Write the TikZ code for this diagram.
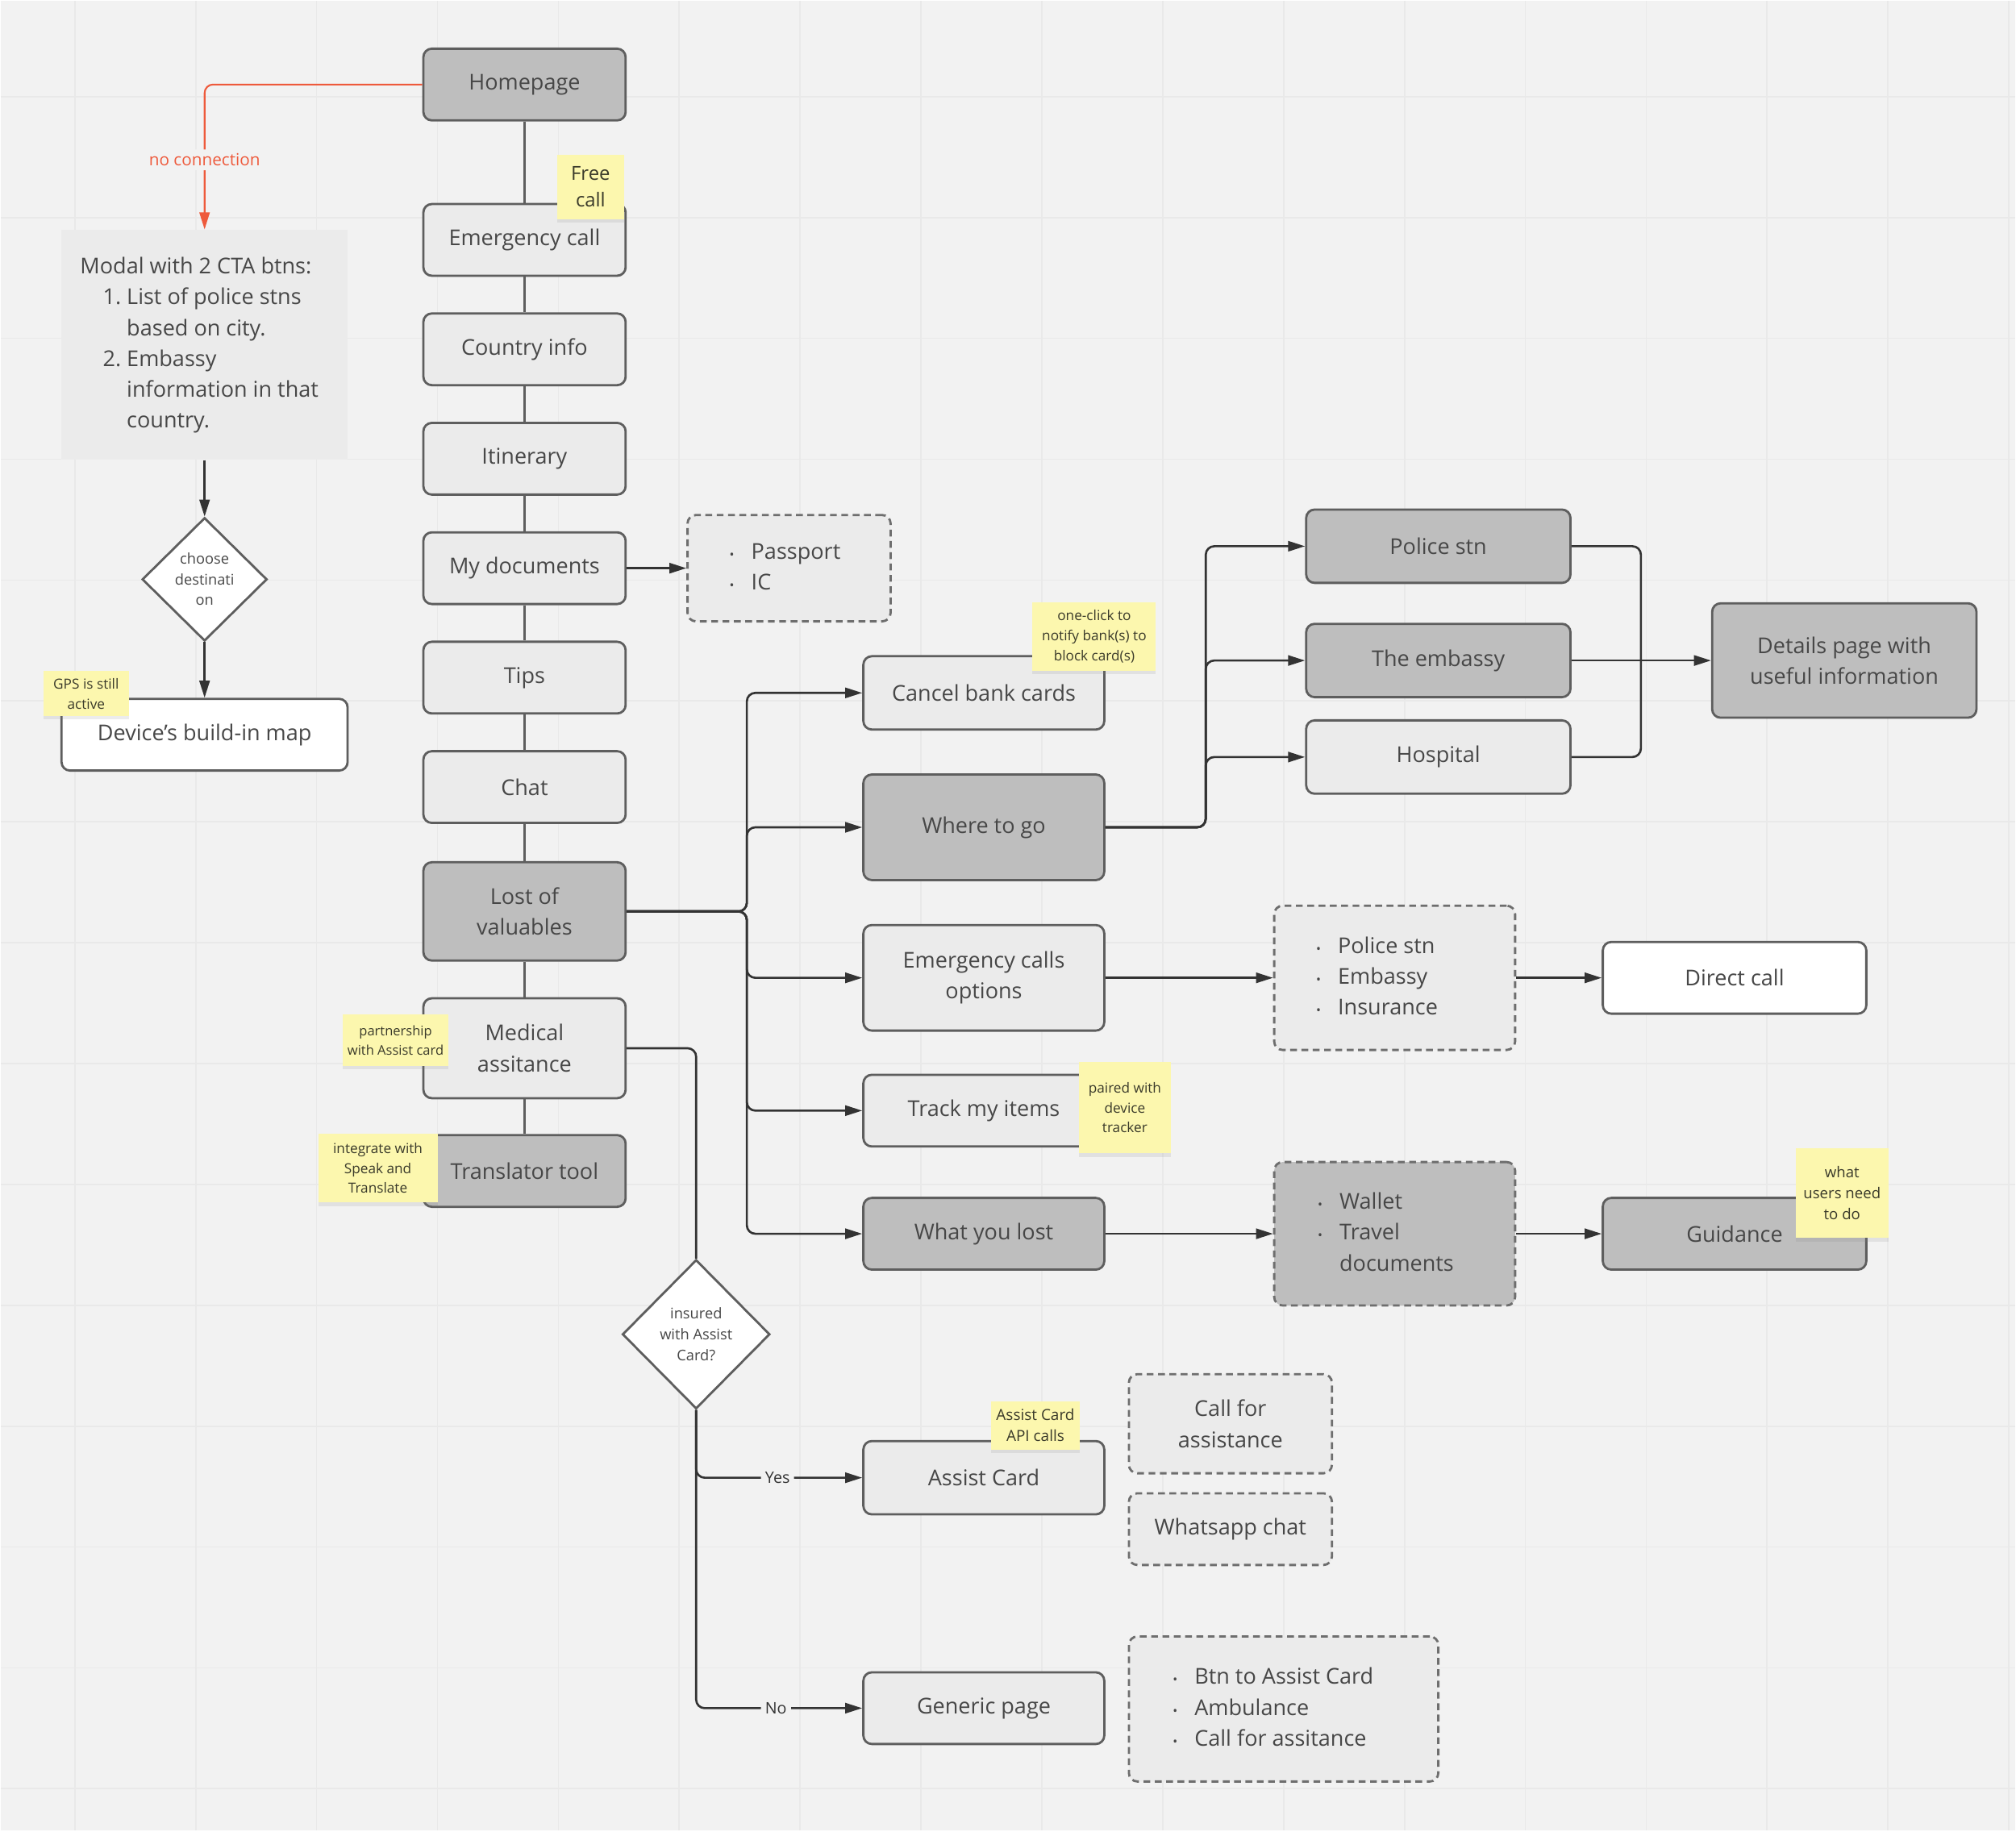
\documentclass[tikz,border=0pt]{standalone}
\usepackage{fontspec}
\setmainfont{Open Sans}
\usepackage{tikz}
\usetikzlibrary{shapes.geometric, arrows.meta, positioning, shadows}

\definecolor{canvas}{HTML}{F2F2F2}
\definecolor{gridgrey}{HTML}{E9E9E9}
\definecolor{fillDark}{HTML}{BEBEBE}
\definecolor{fillLight}{HTML}{EBEBEB}
\definecolor{edgegrey}{HTML}{5E5E5E}
\definecolor{dashgrey}{HTML}{6E6E6E}
\definecolor{textgrey}{HTML}{474747}
\definecolor{linegrey}{HTML}{333333}
\definecolor{sticky}{HTML}{FCF7AE}
\definecolor{notetext}{HTML}{3A3A2A}
\definecolor{nolink}{HTML}{EE5A3C}

\newcommand{\boxfont}{\fontsize{7.7}{10.9}\selectfont}
\newcommand{\notefont}{\fontsize{4.9}{7}\selectfont}
\newcommand{\bul}{{\fontsize{4.5}{4.5}\selectfont\textbullet}}

\begin{document}
\begin{tikzpicture}[
        node distance=0.44cm and 0.5cm,
        box/.style={draw=edgegrey, line width=0.8pt, rounded corners=3pt, minimum height=0.89cm, minimum width=2.51cm, font=\boxfont, text=textgrey, align=center, inner sep=2pt},
        greybox/.style={box, fill=fillDark},
        lightbox/.style={box, fill=fillLight},
        whitebox/.style={box, fill=white},
        listbox/.style={draw=dashgrey, dash pattern=on 2.4pt off 1.6pt},
        note/.style={fill=sticky, text=notetext, font=\notefont, align=center, inner sep=1pt, drop shadow={shadow xshift=0pt, shadow yshift=-1.2pt, opacity=0.15}},
        decision/.style={draw=edgegrey, line width=0.8pt, diamond, fill=white, text=textgrey, font=\fontsize{5.2}{7.3}\selectfont, align=center, inner sep=0pt},
        link/.style={draw=linegrey, line width=0.75pt, rounded corners=3pt},
        tag/.style={fill=canvas, font=\fontsize{5.6}{7}\selectfont, text=linegrey, inner sep=1.5pt},
        >={Triangle[length=6pt, width=3.6pt]}
    ]
        \fill[canvas] (0,0) rectangle (25,-22.71);
        \foreach \x in {0.92,2.42,...,24.93} \draw[gridgrey, line width=0.5pt] (\x,0) -- (\x,-22.71);
        \foreach \y in {1.19,2.69,...,22.2} \draw[gridgrey, line width=0.5pt] (0,-\y) -- (25,-\y);
        \useasboundingbox (0,0) rectangle (25,-22.71);

        \node[greybox] (home) at (6.50,-1.04) {Homepage};
        \node[lightbox, below=1.01cm of home] (emcall) {Emergency call};
        \node[lightbox, below=of emcall] (country) {Country info};
        \node[lightbox, below=of country] (itinerary) {Itinerary};
        \node[lightbox, below=of itinerary] (mydocs) {My documents};
        \node[lightbox, below=of mydocs] (tips) {Tips};
        \node[lightbox, below=of tips] (chat) {Chat};
        \node[greybox, below=0.46cm of chat, minimum height=1.22cm] (lost) {Lost of\\valuables};
        \node[lightbox, below=of lost, minimum height=1.24cm] (medical) {Medical\\assitance};
        \node[greybox, below=0.43cm of medical] (translator) {Translator tool};

        \node[fill=fillLight, minimum width=3.55cm, minimum height=2.85cm, font=\boxfont, text=textgrey] (modal) at (2.53,-4.27) {%
            \begin{tabular}{@{}r@{\hspace{2pt}}l@{}}
                \multicolumn{2}{@{}l@{}}{Modal with 2 CTA btns:}\\
                \hspace*{8pt}1. & List of police stns\\
                & based on city.\\
                2. & Embassy\\
                & information in that\\
                & country.
            \end{tabular}\hspace{0.13cm}\mbox{}};
        \node[decision, minimum width=1.55cm, minimum height=1.53cm, below=0.70cm of modal] (choose) {choose\\destinati\\on};
        \node[whitebox, minimum width=3.55cm, below=0.69cm of choose] (map) {Device's build-in map};

        \node[lightbox, listbox, minimum width=2.52cm, minimum height=1.32cm, right=0.74cm of mydocs] (docs) {%
            \begin{tabular}{@{}c@{\hspace{6pt}}l@{}}\bul & Passport\\ \bul & IC\end{tabular}\hspace{0.1cm}};

        \node[lightbox, minimum width=2.99cm, minimum height=0.91cm] (cancel) at (12.20,-8.59) {Cancel bank cards};
        \node[greybox, minimum width=2.99cm, minimum height=1.31cm, below=0.53cm of cancel] (where) {Where to go};
        \node[lightbox, minimum width=2.99cm, minimum height=1.31cm, below=0.53cm of where] (emopts) {Emergency calls\\options};
        \node[lightbox, minimum width=2.99cm, below=0.52cm of emopts] (track) {Track my items};
        \node[greybox, minimum width=2.99cm, below=0.61cm of track] (whatlost) {What you lost};

        \node[greybox, minimum width=3.28cm, minimum height=0.91cm] (police) at (17.84,-6.77) {Police stn};
        \node[greybox, minimum width=3.28cm, minimum height=0.91cm, below=0.48cm of police] (embassy) {The embassy};
        \node[lightbox, minimum width=3.28cm, minimum height=0.91cm, below=0.26cm of embassy] (hospital) {Hospital};
        \node[greybox, minimum width=3.28cm, minimum height=1.42cm, right=1.73cm of embassy] (details) {Details page with\\useful information};

        \node[lightbox, listbox, minimum width=2.99cm, minimum height=1.79cm, right=2.08cm of emopts] (emlist) {%
            \begin{tabular}{@{}c@{\hspace{6pt}}l@{}}\bul & Police stn\\ \bul & Embassy\\ \bul & Insurance\end{tabular}\hspace{0.44cm}};
        \node[whitebox, minimum width=3.27cm, right=1.06cm of emlist] (direct) {Direct call};
        \node[greybox, listbox, minimum width=2.99cm, minimum height=1.78cm, right=2.08cm of whatlost] (wallet) {%
            \begin{tabular}{@{}c@{\hspace{6pt}}l@{}}\bul & Wallet\\ \bul & Travel\\ & documents\end{tabular}\hspace{0.22cm}};
        \node[greybox, minimum width=3.27cm, right=1.06cm of wallet] (guidance) {Guidance};

        \node[decision, minimum width=1.83cm, minimum height=1.85cm] (ins) at (8.63,-16.55) {insured\\with Assist\\Card?};
        \node[lightbox, minimum width=2.99cm, minimum height=0.91cm] (assist) at (12.20,-18.33) {Assist Card};
        \node[lightbox, minimum width=2.99cm] (generic) at (12.20,-21.19) {Generic page};
        \node[lightbox, listbox, minimum width=2.52cm, minimum height=1.23cm] (callfor) at (15.26,-17.66) {Call for\\assistance};
        \node[lightbox, listbox, minimum width=2.52cm, below=0.22cm of callfor] (whatsapp) {Whatsapp chat};
        \node[lightbox, listbox, minimum width=3.84cm, minimum height=1.80cm] (btnlist) at (15.92,-21.20) {%
            \begin{tabular}{@{}c@{\hspace{6pt}}l@{}}\bul & Btn to Assist Card\\ \bul & Ambulance\\ \bul & Call for assitance\end{tabular}\hspace{0.26cm}};

        \foreach \a/\b in {home/emcall, emcall/country, country/itinerary, itinerary/mydocs, mydocs/tips, tips/chat, chat/lost, lost/medical, medical/translator}
            \draw[link, draw=edgegrey] (\a) -- (\b);

        \draw[link, draw=nolink, line width=0.6pt, ->] (home.west) -| node[pos=0.76, fill=canvas, text=nolink, font=\fontsize{5.9}{7}\selectfont, inner sep=1.5pt] {no connection} (modal.north);
        \draw[link, ->] (modal.south) -- (choose.north);
        \draw[link, ->] (choose.south) -- (map.north);
        \draw[link, ->] (mydocs.east) -- (docs.west);

        \path (lost.east) ++(1.49,0) coordinate (busA);
        \foreach \t in {cancel, where, emopts, track, whatlost}
            \draw[link, ->] (lost.east) -- (busA) |- (\t.west);

        \path (where.east) ++(1.245,0) coordinate (busB);
        \foreach \t in {police, embassy, hospital}
            \draw[link, ->] (where.east) -- (busB) |- (\t.west);

        \path (embassy.east) ++(0.86,0) coordinate (busC);
        \draw[link] (police.east) -| (busC);
        \draw[link] (hospital.east) -| (busC);
        \draw[link, ->] (embassy.east) -- (details.west);

        \draw[link, ->] (emopts.east) -- (emlist.west);
        \draw[link, ->] (emlist.east) -- (direct.west);
        \draw[link, ->] (whatlost.east) -- (wallet.west);
        \draw[link, ->] (wallet.east) -- (guidance.west);

        \draw[link] (medical.east) -| (ins.north);
        \draw[link, ->] (ins.south) |- node[tag, pos=0.745] {Yes} (assist.west);
        \draw[link, ->] (ins.south) |- node[tag, pos=0.74] {No} (generic.west);

        \node[note, minimum width=0.83cm, minimum height=0.80cm, font=\fontsize{6.8}{9.5}\selectfont] (freenote) at (7.32,-2.31) {Free\\call};
        \node[note, minimum width=1.06cm, minimum height=0.56cm] (gpsnote) at (1.06,-8.60) {GPS is still\\active};
        \node[note, minimum width=1.53cm, minimum height=0.85cm] (banknote) at (13.57,-7.89) {one-click to\\notify bank(s) to\\block card(s)};
        \node[note, minimum width=1.14cm, minimum height=1.13cm] (tracknote) at (13.95,-13.74) {paired with\\device\\tracker};
        \node[note, minimum width=1.15cm, minimum height=1.11cm, font=\fontsize{5.3}{7.4}\selectfont] (guidenote) at (22.85,-14.80) {what\\users need\\to do};
        \node[note, minimum width=1.11cm, minimum height=0.60cm, font=\fontsize{5.4}{7.4}\selectfont] (assistnote) at (12.84,-17.68) {Assist Card\\API calls};
        \node[note, minimum width=1.32cm, minimum height=0.64cm, font=\fontsize{4.7}{6.8}\selectfont] (mednote) at (4.90,-12.90) {partnership\\with Assist card};
        \node[note, minimum width=1.48cm, minimum height=0.85cm] (transnote) at (4.68,-14.49) {integrate with\\Speak and\\Translate};
    \end{tikzpicture}
\end{document}
